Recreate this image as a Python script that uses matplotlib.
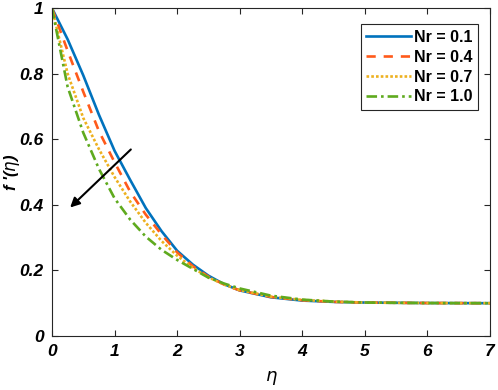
import matplotlib.pyplot as plt

plt.rcParams["font.family"] = ["Liberation Sans", "DejaVu Sans"]

eta = [0, 0.25, 0.5, 0.75, 1.0, 1.25, 1.5, 1.75, 2.0, 2.25, 2.5, 2.75, 3.0, 3.5, 4.0, 4.5, 5.0, 6.0, 7.0]
f_nr01 = [1.0, 0.905, 0.795, 0.675, 0.565, 0.476, 0.39, 0.32, 0.26, 0.218, 0.184, 0.158, 0.139, 0.118, 0.108, 0.104, 0.102, 0.1005, 0.1]
f_nr04 = [1.0, 0.87, 0.745, 0.625, 0.53, 0.44, 0.37, 0.31, 0.255, 0.213, 0.181, 0.157, 0.139, 0.119, 0.109, 0.104, 0.102, 0.1005, 0.1]
f_nr07 = [1.0, 0.80, 0.665, 0.57, 0.485, 0.41, 0.345, 0.29, 0.245, 0.208, 0.179, 0.157, 0.140, 0.120, 0.110, 0.105, 0.102, 0.1005, 0.1]
f_nr10 = [1.0, 0.76, 0.62, 0.51, 0.42, 0.355, 0.303, 0.263, 0.232, 0.205, 0.178, 0.160, 0.145, 0.123, 0.111, 0.105, 0.102, 0.1005, 0.1]
labels = ["Nr = 0.1", "Nr = 0.4", "Nr = 0.7", "Nr = 1.0"]

fig = plt.figure(figsize=(4.98, 3.90), dpi=100)
ax = fig.add_axes([0.1044, 0.1385, 0.8795, 0.8405])

ax.plot(eta, f_nr01, color="#0072BD", lw=1.9, ls="-", label=labels[0])
ax.plot(eta, f_nr04, color="#FF5A1A", lw=1.9, ls=(0, (3.5, 3)), label=labels[1])
ax.plot(eta, f_nr07, color="#EDB120", lw=1.9, ls=(0, (1, 0.8)), label=labels[2])
ax.plot(eta, f_nr10, color="#5FAA1E", lw=1.9, ls=(0, (4, 1.5, 1, 1.5)), label=labels[3])

ax.annotate("", xy=(0.29, 0.392), xytext=(1.26, 0.569),
            arrowprops=dict(arrowstyle="-|>", color="black", lw=1.5,
                            mutation_scale=14, shrinkA=0, shrinkB=0))

ax.set_xlim(0, 7)
ax.set_ylim(0, 1)
ax.set_xticks(range(0, 8))
ax.set_yticks([0, 0.2, 0.4, 0.6, 0.8, 1])
ax.set_yticklabels(["0", "0.2", "0.4", "0.6", "0.8", "1"])
ax.tick_params(direction="in", top=True, right=True, length=4, width=0.8,
               colors="#262626", labelsize=12.5, pad=6)
for lab in ax.get_xticklabels() + ax.get_yticklabels():
    lab.set_fontweight("bold")
    lab.set_fontstyle("italic")
    lab.set_color("black")
for sp in ax.spines.values():
    sp.set_color("#262626")
    sp.set_linewidth(0.8)

ax.set_xlabel(r"$\eta$", fontsize=13, labelpad=7)
ax.set_ylabel(r"f '($\eta$)", fontsize=12, fontweight="bold", fontstyle="italic")
ax.yaxis.set_label_coords(-0.068, 0.5)

leg = ax.legend(loc="upper right", bbox_to_anchor=(0.99, 0.975), fancybox=False,
                edgecolor="#262626", framealpha=1, handlelength=2.8, handletextpad=0.15,
                borderpad=0.35, labelspacing=0.3, prop={"weight": "bold", "size": 11.5})
leg.get_frame().set_linewidth(0.8)

fig.savefig("out.png", dpi=100)
